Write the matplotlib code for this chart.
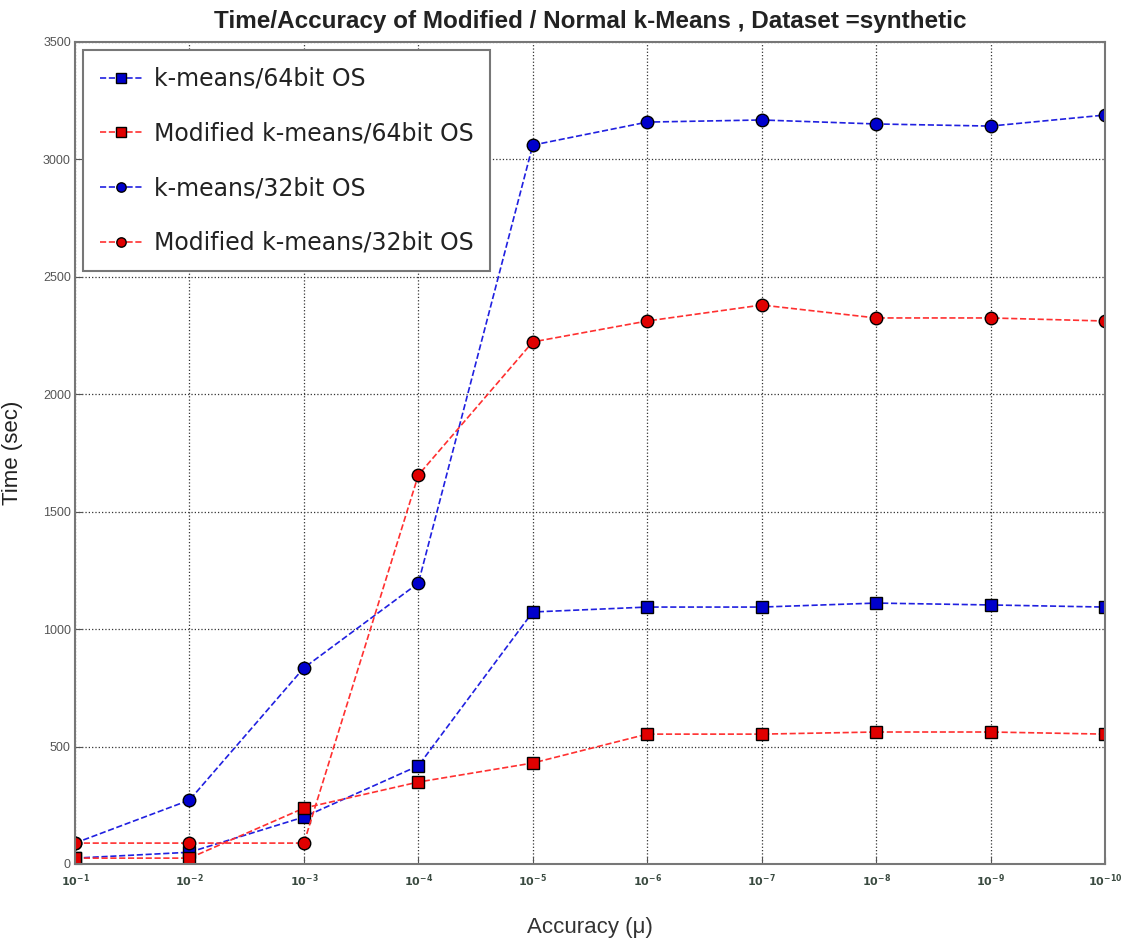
import matplotlib
matplotlib.use("Agg")
import matplotlib.pyplot as plt

# Accuracy thresholds (x) and run times in seconds (y)
accuracy = [1e-1, 1e-2, 1e-3, 1e-4, 1e-5, 1e-6, 1e-7, 1e-8, 1e-9, 1e-10]
tick_labels = [r'$\mathbf{10^{-%d}}$' % k for k in range(1, 11)]

kmeans_64 = [25, 50, 200, 418, 1073, 1094, 1094, 1111, 1103, 1094]
mod_kmeans_64 = [25, 25, 238, 349, 430, 553, 553, 562, 562, 553]
kmeans_32 = [89, 272, 835, 1196, 3061, 3159, 3168, 3151, 3142, 3189]
mod_kmeans_32 = [89, 89, 89, 1656, 2223, 2312, 2380, 2325, 2325, 2312]

NARROW = ['Liberation Sans Narrow', 'Liberation Sans', 'DejaVu Sans']
ARIAL = ['Liberation Sans', 'DejaVu Sans']

fig = plt.figure(figsize=(11.28, 9.42), dpi=100)
ax = fig.add_axes([75 / 1128, 78 / 942, 1030 / 1128, 822 / 942])

common = dict(linestyle='--', linewidth=1.2, markersize=9,
              markeredgecolor='black', markeredgewidth=1.0)
ax.plot(accuracy, kmeans_64, color='#2020e0', marker='s',
        markerfacecolor='#0000cc', label='k-means/64bit OS', **common)
ax.plot(accuracy, mod_kmeans_64, color='#ff3030', marker='s',
        markerfacecolor='#e00000', label='Modified k-means/64bit OS', **common)
ax.plot(accuracy, kmeans_32, color='#2020e0', marker='o',
        markerfacecolor='#0000cc', label='k-means/32bit OS', **common)
ax.plot(accuracy, mod_kmeans_32, color='#ff3030', marker='o',
        markerfacecolor='#e00000', label='Modified k-means/32bit OS', **common)

ax.set_xscale('log')
ax.set_xlim(1e-1, 1e-10)
ax.set_ylim(0, 3500)
ax.set_xticks(accuracy)
ax.set_xticklabels(tick_labels)
ax.minorticks_off()
ax.set_yticks(range(0, 3501, 500))
ax.tick_params(direction='in', length=5, colors='#555555')
ax.tick_params(axis='x', labelsize=8, labelcolor='#3a4a40', pad=6)
ax.tick_params(axis='y', labelsize=9, labelcolor='#555555', pad=3)
for lbl in ax.get_yticklabels():
    lbl.set_family(NARROW)
ax.grid(True, linestyle=':', color='#333333', linewidth=0.9)
for s in ax.spines.values():
    s.set_color('#777777')
    s.set_linewidth(1.5)

ax.set_title('Time/Accuracy of Modified / Normal k-Means , Dataset =synthetic',
             fontsize=17.5, fontweight='bold', family=NARROW, pad=10,
             color='#222222')
ax.set_xlabel('Accuracy (\u03bc)', fontsize=16, labelpad=20,
              color='#333333', family=ARIAL)
ax.set_ylabel('Time (sec)', fontsize=16, labelpad=14,
              color='#222222', family=ARIAL)

leg = ax.legend(loc='upper left', fontsize=17, handlelength=1.8,
                handletextpad=0.5, markerscale=0.75,
                labelspacing=1.3, borderpad=0.7, fancybox=False,
                edgecolor='#777777', framealpha=1, borderaxespad=0.35)
leg.get_frame().set_linewidth(1.5)
for t in leg.get_texts():
    t.set_color('#222222')

fig.savefig('out.png', dpi=100)
